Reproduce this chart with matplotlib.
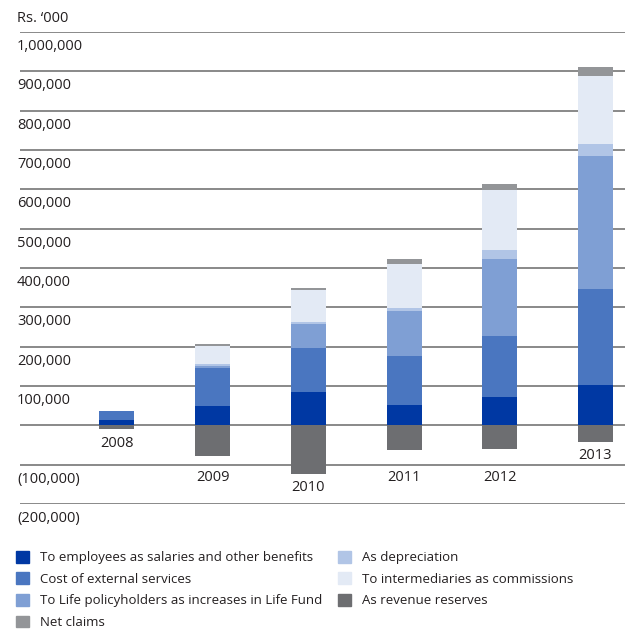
import numpy as np
import matplotlib
matplotlib.use("Agg")
import matplotlib.pyplot as plt
from matplotlib.patches import Patch
from matplotlib.transforms import blended_transform_factory

plt.rcParams['font.family'] = ['Open Sans', 'DejaVu Sans']

years = ['2008', '2009', '2010', '2011', '2012', '2013']
employees = [14500, 50000, 85600, 52600, 72900, 103400]
external = [21000, 96500, 111800, 124500, 155000, 243800]
life_fund = [0, 5000, 61000, 114300, 195600, 337800]
depreciation = [0, 5000, 5000, 7600, 22900, 30500]
commissions = [0, 45700, 81300, 111800, 152400, 172700]
net_claims = [0, 5000, 5000, 12700, 15200, 22900]
revenue_reserves = [-10200, -77000, -125000, -61700, -59200, -41400]

# where each year label sits under its bar
year_label_y = [-47000, -132000, -158000, -132000, -132000, -77000]

tick_values = [1000000, 900000, 800000, 700000, 600000, 500000, 400000,
               300000, 200000, 100000, -100000, -200000]

series = [
    ("To employees as salaries and other benefits", employees, "#0038a3"),
    ("Cost of external services", external, "#4a76c0"),
    ("To Life policyholders as increases in Life Fund", life_fund, "#7f9fd4"),
    ("As depreciation", depreciation, "#b1c5e6"),
    ("To intermediaries as commissions", commissions, "#e3eaf5"),
    ("Net claims", net_claims, "#939598"),
]
reserve_color = "#6d6e71"
text_color = "#231f20"

fig = plt.figure(figsize=(6.30, 6.31), dpi=100)
ax = fig.add_axes([0.0317, 0.2013, 0.9603, 0.748])

x = np.arange(len(years))
width = 0.366

# gridlines at every tick, including zero
for v in tick_values + [0]:
    ax.axhline(v, color="#808080", lw=1.3, zorder=1)

bottom = np.zeros(len(years))
for name, vals, col in series:
    ax.bar(x, vals, width, bottom=bottom, color=col, zorder=2, linewidth=0)
    bottom += np.array(vals)
ax.bar(x, revenue_reserves, width, color=reserve_color, zorder=2, linewidth=0)

ax.set_xlim(-1.0136, 5.308)
ax.set_ylim(-200000, 1000000)
ax.axis('off')

# tick labels sit just below their gridline, on the left
trans = blended_transform_factory(fig.transFigure, ax.transData)
for v in tick_values:
    if v < 0:
        lab = "({:,})".format(-v)
    else:
        lab = "{:,}".format(v)
    ax.text(0.027, v - 37000, lab, transform=trans, ha='left', va='center',
            fontsize=10.5, color=text_color)

for xi, yr, yl in zip(x, years, year_label_y):
    ax.text(xi, yl, yr, ha='center', va='center', fontsize=10.5, color=text_color)

fig.text(0.027, 0.97, "Rs. \u2018000", ha='left', va='center', fontsize=10.5,
         color=text_color)

handles = [Patch(color=c, label=n) for n, v, c in series]
handles.append(Patch(color=reserve_color, label="As revenue reserves"))
order = [0, 1, 2, 5, 3, 4, 6]
fig.legend([handles[i] for i in order], [handles[i].get_label() for i in order],
           loc='upper left', bbox_to_anchor=(0.025, 0.127), ncol=2,
           frameon=False, fontsize=9.5, handlelength=1.0, handleheight=1.0,
           handletextpad=0.85, columnspacing=1.15, labelspacing=0.62,
           borderaxespad=0, borderpad=0, labelcolor=text_color)

fig.savefig("out.png", dpi=100)
